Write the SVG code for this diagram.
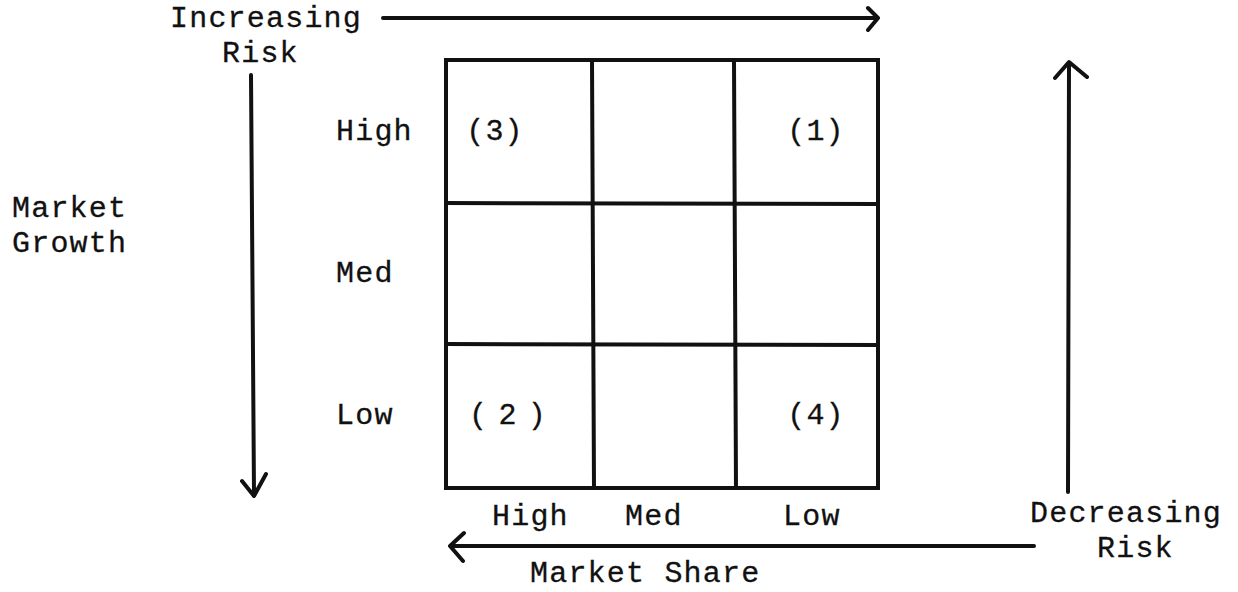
<svg xmlns="http://www.w3.org/2000/svg" width="1238" height="592" viewBox="0 0 1238 592">
<style>
text{font-family:"Liberation Mono","DejaVu Sans Mono",monospace;font-size:30px;letter-spacing:1.2px;fill:#111;stroke:#111;stroke-width:0.3}
.g{stroke:#111;stroke-width:4;fill:none;stroke-linecap:square}
.a{stroke:#111;stroke-width:4;fill:none;stroke-linecap:round;stroke-linejoin:round}
</style>
<rect width="1238" height="592" fill="#fff"/>
<g id="grid">
<rect class="g" x="446" y="60" width="432" height="428"/>
<line class="g" x1="592" y1="60" x2="594" y2="488"/>
<line class="g" x1="734" y1="60" x2="736" y2="488"/>
<line class="g" x1="446" y1="203" x2="878" y2="204"/>
<line class="g" x1="446" y1="344" x2="878" y2="345"/>
</g>
<g id="cells">
<text x="495" y="140" text-anchor="middle">(3)</text>
<text x="816" y="140" text-anchor="middle">(1)</text>
<text x="508" y="424" text-anchor="middle" textLength="78" lengthAdjust="spacing">(2)</text>
<text x="816" y="424" text-anchor="middle">(4)</text>
</g>
<g id="row-labels">
<text x="336" y="140">High</text>
<text x="336" y="282">Med</text>
<text x="336" y="424">Low</text>
</g>
<g id="col-labels">
<text x="492" y="525">High</text>
<text x="625" y="525">Med</text>
<text x="783" y="525">Low</text>
</g>
<g id="market-growth">
<text x="12" y="217">Market</text>
<text x="12" y="252">Growth</text>
</g>
<g id="increasing-risk">
<text x="170" y="27">Increasing</text>
<text x="222" y="62">Risk</text>
</g>
<g id="decreasing-risk">
<text x="1030" y="522">Decreasing</text>
<text x="1097" y="557">Risk</text>
</g>
<g id="market-share">
<text x="530" y="582">Market Share</text>
</g>
<g id="connectors">
<path class="a" d="M383 18 L877 18 M868 8 L878 18 L868 30"/>
<path class="a" d="M251 75 L254 494 M242 481 L254 496 L266 474"/>
<path class="a" d="M1034 546 L452 546 M464 533 L450 546 L463 561"/>
<path class="a" d="M1068 492 L1069 63 M1055 78 L1069 62 L1087 77"/>
</g>
</svg>
